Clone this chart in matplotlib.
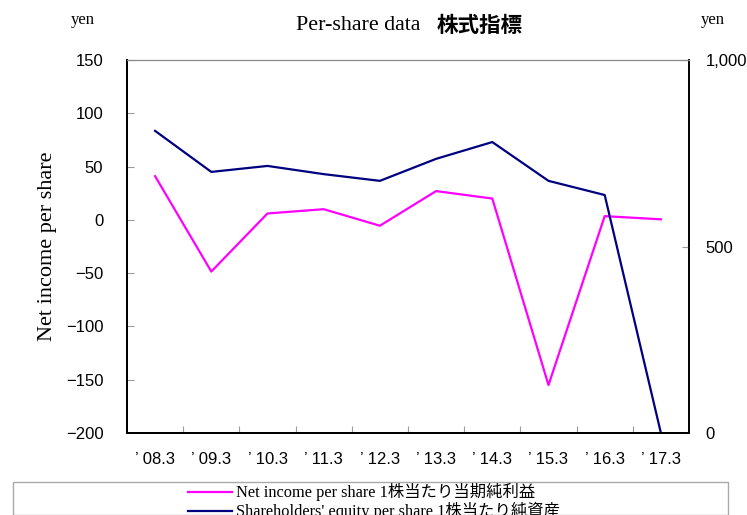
import matplotlib
matplotlib.use("Agg")
import matplotlib.pyplot as plt
from matplotlib.patches import Rectangle

categories = ["08.3", "09.3", "10.3", "11.3", "12.3", "13.3", "14.3", "15.3", "16.3", "17.3"]
net_income = [41, -48.5, 6, 10, -5.5, 27, 20, -155, 3.5, 0.5]
equity = [810, 700, 716, 694, 676, 735, 780, 676, 638, 0]
left_ticks = [-200, -150, -100, -50, 0, 50, 100, 150]
right_ticks = [0, 500, 1000]
right_tick_labels = ["0", "500", "1,000"]

serif = ["Liberation Serif", "Noto Sans CJK JP"]
sans = ["Liberation Sans", "Noto Sans CJK JP"]

fig = plt.figure(figsize=(7.47, 5.15), dpi=100)
ax = fig.add_axes([127/747, 1-433/515, 562/747, 373/515])
ax2 = ax.twinx()

x = list(range(len(categories)))
l1, = ax.plot(x, net_income, color="#FF00FF", lw=1.6)
l2, = ax2.plot(x, equity, color="#000080", lw=1.6)

ax.set_xlim(-0.5, len(categories) - 0.5)
ax.set_ylim(-200, 150)
ax2.set_ylim(0, 1000)
ax.set_yticks(left_ticks)
ax.set_yticklabels([f"{v}".replace("-", "\u2212") for v in left_ticks], family=sans, fontsize=12)
ax2.set_yticks(right_ticks)
ax2.set_yticklabels(right_tick_labels, family=sans, fontsize=12)

ax.set_xticks([i + 0.5 for i in x[:-1]])
ax.set_xticklabels([])
ax.set_xticks(x, minor=True)
ax.set_xticklabels(["\u2019 " + c for c in categories], minor=True, family=sans, fontsize=12)
ax.tick_params(axis="x", which="minor", length=0, pad=14)
ax.tick_params(axis="x", which="major", direction="in", length=5, color="#999999")
ax.tick_params(axis="y", direction="in", length=5, color="#999999", pad=17)
ax2.tick_params(axis="y", direction="in", length=5, color="#999999", pad=12)

for a in (ax, ax2):
    a.spines["top"].set_color("#888888")
    a.spines["left"].set_linewidth(1.4)
    a.spines["bottom"].set_linewidth(1.4)
    a.spines["right"].set_linewidth(1.2)

ax.set_ylabel("Net income per share", family=serif, fontsize=16, va="center")
ax.yaxis.set_label_coords((48-127)/562, 0.5)

fig.text(83/747, 1-20/515, "yen", family=serif, fontsize=12, ha="center", va="center")
fig.text(713/747, 1-20/515, "yen", family=serif, fontsize=12, ha="center", va="center")
fig.text(420/747, 1-25/515, "Per-share data", family=serif, fontsize=15.8, ha="right", va="center")
fig.text(437/747, 1-25/515, "株式指標", family=["Noto Sans CJK JP"], fontsize=15.5, fontweight="bold", ha="left", va="center")

fig.patches.append(Rectangle((13/747, 0), 715/747, 1-482/515, transform=fig.transFigure,
                             fill=False, edgecolor="#aaaaaa", lw=1))
fig.legend([l1, l2], ["Net income per share 1株当たり当期純利益", "Shareholders' equity per share 1株当たり純資産"],
           loc="upper center", bbox_to_anchor=(374/747, 1-472/515), frameon=False,
           prop={"family": serif, "size": 11.75}, handlelength=2.65, handletextpad=0.25,
           labelspacing=0.05, borderpad=0.2)

fig.savefig("out.png", dpi=100)
